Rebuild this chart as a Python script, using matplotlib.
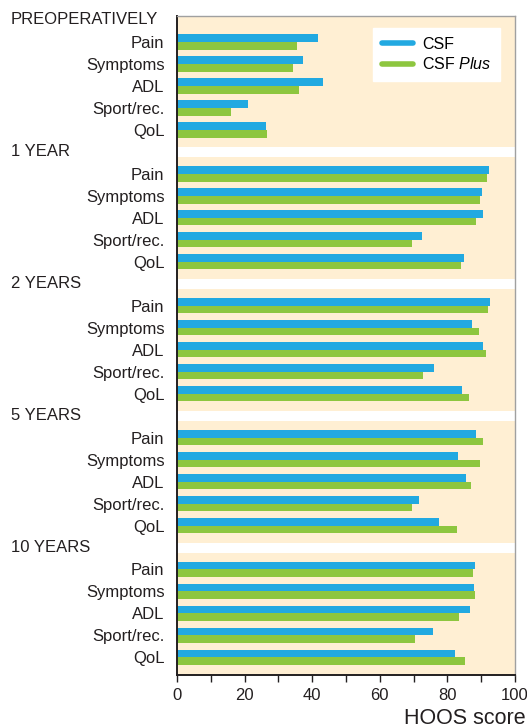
import matplotlib
matplotlib.use('Agg')
import matplotlib.pyplot as plt
import matplotlib.transforms as mtransforms
from matplotlib.lines import Line2D

plt.rcParams['font.family'] = ['Liberation Sans', 'DejaVu Sans']
plt.rcParams['mathtext.fontset'] = 'custom'
plt.rcParams['mathtext.rm'] = 'Liberation Sans'
plt.rcParams['mathtext.it'] = 'Liberation Sans:italic'

# HOOS subscales per follow-up
periods = ['PREOPERATIVELY', '1 YEAR', '2 YEARS', '5 YEARS', '10 YEARS']
categories = ['Pain', 'Symptoms', 'ADL', 'Sport/rec.', 'QoL']
csf = [[41.7, 37.4, 43.3, 21.1, 26.3],
       [92.4, 90.1, 90.4, 72.6, 84.9],
       [92.5, 87.3, 90.6, 75.9, 84.3],
       [88.6, 83.0, 85.6, 71.7, 77.6],
       [88.3, 87.8, 86.8, 75.7, 82.2]]
csf_plus = [[35.5, 34.4, 36.1, 16.0, 26.5],
            [91.6, 89.7, 88.5, 69.4, 84.1],
            [92.1, 89.4, 91.5, 72.7, 86.3],
            [90.4, 89.6, 87.0, 69.6, 82.8],
            [87.7, 88.2, 83.4, 70.5, 85.1]]

blue = '#22A9E1'
green = '#8DC63F'
dark = '#231F20'

fig = plt.figure(figsize=(5.27, 7.28), dpi=100)
ax = fig.add_axes([177/527, 1-675/728, 338/527, 659/728])
ax.set_facecolor('#FFEFD3')

h = 0.35
ypos = []
for g in range(len(periods)):
    for i in range(len(categories)):
        y = g*6 + i + 1
        ypos.append(y)
        ax.barh(y - h/2, csf[g][i], height=h, color=blue)
        ax.barh(y + h/2, csf_plus[g][i], height=h, color=green)

# white separators between periods
for g in range(1, len(periods)):
    ax.axhspan(g*6 - 0.22, g*6 + 0.24, color='white', zorder=0.5, lw=0)

ax.set_ylim(29.8, -0.18)
ax.set_xlim(0, 100)
ax.set_yticks(ypos)
ax.set_yticklabels(categories * len(periods), fontsize=12, color=dark)
ax.tick_params(axis='y', length=0, pad=9)

ax.set_xticks(range(0, 101, 20))
ax.set_xticks(range(10, 100, 20), minor=True)
ax.tick_params(axis='x', which='both', length=5, width=1, color=dark,
               labelsize=12, labelcolor=dark, pad=4)

for s in ['left', 'bottom']:
    ax.spines[s].set_color(dark)
    ax.spines[s].set_linewidth(1.4)
for s in ['top', 'right']:
    ax.spines[s].set_color('#A0A0A0')
    ax.spines[s].set_linewidth(1)

trans = mtransforms.blended_transform_factory(fig.transFigure, ax.transData)
for g, p in enumerate(periods):
    ax.text(11/527, g*6, p, transform=trans, ha='left', va='center',
            fontsize=12, color=dark, clip_on=False)

fig.text(404/527, 1-718/728, 'HOOS score', ha='left', va='center',
         fontsize=15.5, color=dark)

handles = [Line2D([], [], color=blue, lw=4, solid_capstyle='round'),
           Line2D([], [], color=green, lw=4, solid_capstyle='round')]
leg = ax.legend(handles, ['CSF', 'CSF $\\it{Plus}$'], loc='upper right',
                bbox_to_anchor=(0.956, 0.982),
                borderaxespad=0, frameon=True, fancybox=False,
                fontsize=11.5, handlelength=1.9,
                borderpad=0.55, labelspacing=0.3, handletextpad=0.6)
leg.get_frame().set_facecolor('white')
leg.get_frame().set_edgecolor('white')
leg.get_frame().set_alpha(1)

fig.savefig('out.png', dpi=100)
